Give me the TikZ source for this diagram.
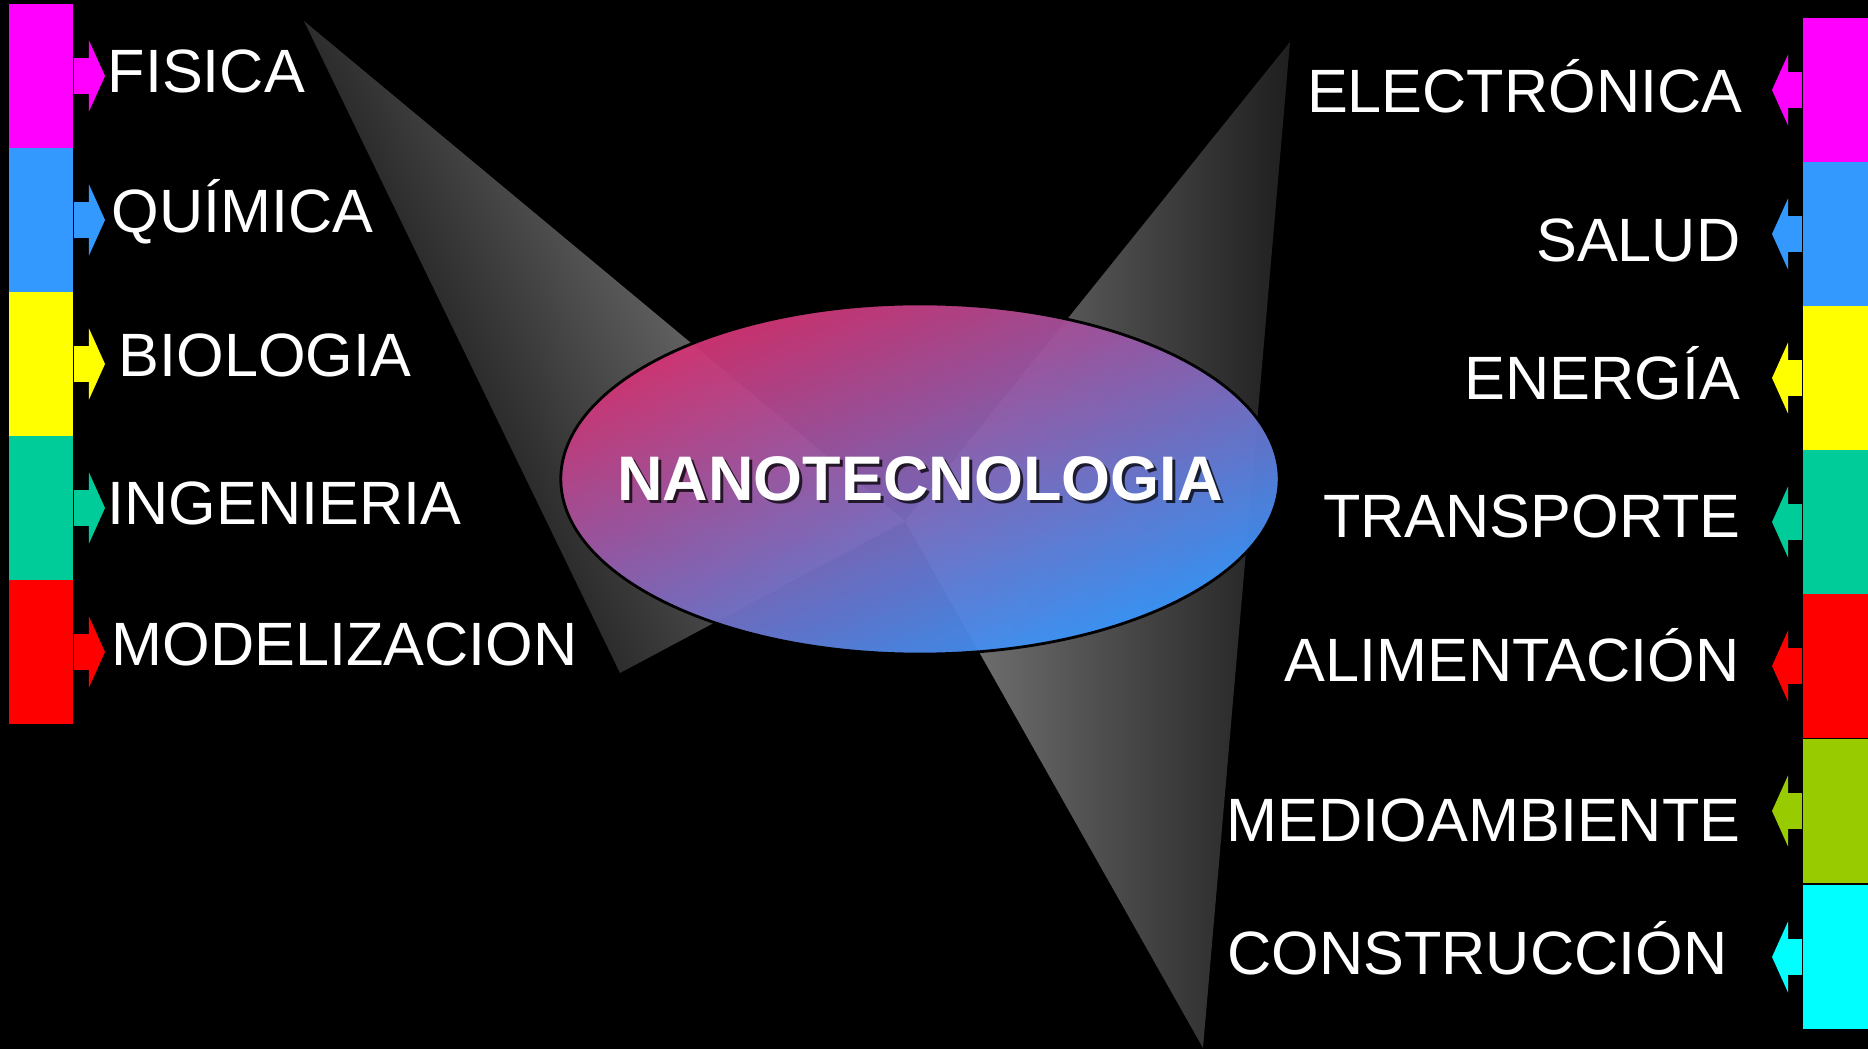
\documentclass[tikz,border=0pt]{standalone}
\usepackage{fontspec}
\setmainfont{Liberation Sans}
\usetikzlibrary{arrows.meta,shapes.geometric}
\definecolor{cmagenta}{HTML}{FF00FF}
\definecolor{cazul}{HTML}{3399FF}
\definecolor{camarillo}{HTML}{FFFF00}
\definecolor{cverde}{HTML}{00CC99}
\definecolor{crojo}{HTML}{FF0000}
\definecolor{coliva}{HTML}{99CC00}
\definecolor{ccian}{HTML}{00FFFF}
\definecolor{cnanoa}{HTML}{D8306E}
\definecolor{cnanom}{HTML}{9078D6}
\definecolor{cnanob}{HTML}{3399FF}
\tikzset{
  barra/.style={rectangle,fill=#1,inner sep=0pt,minimum width=0.64cm,minimum height=1.44cm},
  barrad/.style={barra=#1,minimum width=0.65cm},
  pestana/.style={draw=#1,line width=0.36cm,
                  -{Triangle[length=0.16cm,width=0.71cm,line width=0pt]}},
  pestd/.style={pestana=#1,shorten >=0.02cm},
  pesti/.style={pestana=#1,shorten >=0.31cm},
  etiq/.style={text=white,inner sep=0pt,font=\fontsize{17.4pt}{20pt}\selectfont},
  etiqi/.style={etiq,anchor=base west},
  etiqd/.style={etiq,anchor=base east},
  nano/.style={ellipse,draw=black,line width=0.8pt,inner sep=0pt,
               minimum width=7.18cm,minimum height=3.5cm,
               top color=cnanoa,middle color=cnanom,bottom color=cnanob,shading angle=22,
               fill opacity=0.95},
  tit/.style={text=white,inner sep=0pt,font=\bfseries\fontsize{17.9pt}{20pt}\selectfont},
}

\begin{document}
\begin{tikzpicture}[x=0.01cm,y=-0.01cm,
  titsombra/.style={tit,text=black,text opacity=0.75}]

\useasboundingbox (0,0) rectangle (1868,1049);
\fill[black] (0,0) rectangle (1868,1049);

\coordinate (vertice) at (905,521);
\shade[top color=gray!80,bottom color=black,shading angle=-64]
  (304,21) -- (620,673) -- (vertice) -- cycle;
\shade[left color=gray,right color=black!88]
  (vertice) -- (1290,42) -- (1203,1048) -- cycle;

\node[nano] (nano) at (920,479) {};
\node[titsombra] (sombra) at ([shift={(3,3)}]nano.center) {NANOTECNOLOGIA};
\node[tit] (titulo) at (nano.center) {NANOTECNOLOGIA};

\node[barra=cmagenta]  (bfis) at (41,76)  {};
\node[barra=cazul]     (bqui) at (41,220) {};
\node[barra=camarillo] (bbio) at (41,364) {};
\node[barra=cverde]    (bing) at (41,508) {};
\node[barra=crojo]     (bmod) at (41,652) {};

\node[etiqi] (fis) at (107,93)  {FISICA};
\node[etiqi] (qui) at (111,233) {QUÍMICA};
\node[etiqi] (bio) at (118,377) {BIOLOGIA};
\node[etiqi] (ing) at (107,525) {INGENIERIA};
\node[etiqi] (mod) at (111,666) {MODELIZACION};

\draw[pestd=cmagenta] (bfis.east) -- (bfis.east -| fis.west);
\draw[pestd=cazul,shorten >=0.06cm] (bqui.east) -- (bqui.east -| qui.west);
\draw[pestd=camarillo,shorten >=0.13cm] (bbio.east) -- (bbio.east -| bio.west);
\draw[pestd=cverde] (bing.east) -- (bing.east -| ing.west);
\draw[pestd=crojo,shorten >=0.06cm] (bmod.east) -- (bmod.east -| mod.west);

\node[barrad=cmagenta]  (bele) at (1835.5,90)  {};
\node[barrad=cazul]     (bsal) at (1835.5,234) {};
\node[barrad=camarillo] (bene) at (1835.5,378) {};
\node[barrad=cverde]    (btra) at (1835.5,522) {};
\node[barrad=crojo]     (bali) at (1835.5,666) {};
\node[barrad=coliva]    (bmed) at (1835.5,811) {};
\node[barrad=ccian]     (bcon) at (1835.5,957) {};

\node[etiqd] (ele) at (1743,113) {ELECTRÓNICA};
\node[etiqd] (sal) at (1741,262) {SALUD};
\node[etiqd] (ene) at (1741,400) {ENERGÍA};
\node[etiqd] (tra) at (1741,538) {TRANSPORTE};
\node[etiqd] (ali) at (1740,682) {ALIMENTACIÓN};
\node[etiqd] (med) at (1741,842) {MEDIOAMBIENTE};
\node[etiqd] (con) at (1728,975) {CONSTRUCCIÓN};

\draw[pesti=cmagenta,shorten >=0.29cm] (bele.west) -- (bele.west -| ele.east);
\draw[pesti=cazul] (bsal.west) -- (bsal.west -| sal.east);
\draw[pesti=camarillo] (bene.west) -- (bene.west -| ene.east);
\draw[pesti=cverde] (btra.west) -- (btra.west -| tra.east);
\draw[pesti=crojo,shorten >=0.32cm] (bali.west) -- (bali.west -| ali.east);
\draw[pesti=coliva] (bmed.west) -- (bmed.west -| med.east);
\draw[pesti=ccian,shorten >=0.44cm] (bcon.west) -- (bcon.west -| con.east);

\end{tikzpicture}
\end{document}
